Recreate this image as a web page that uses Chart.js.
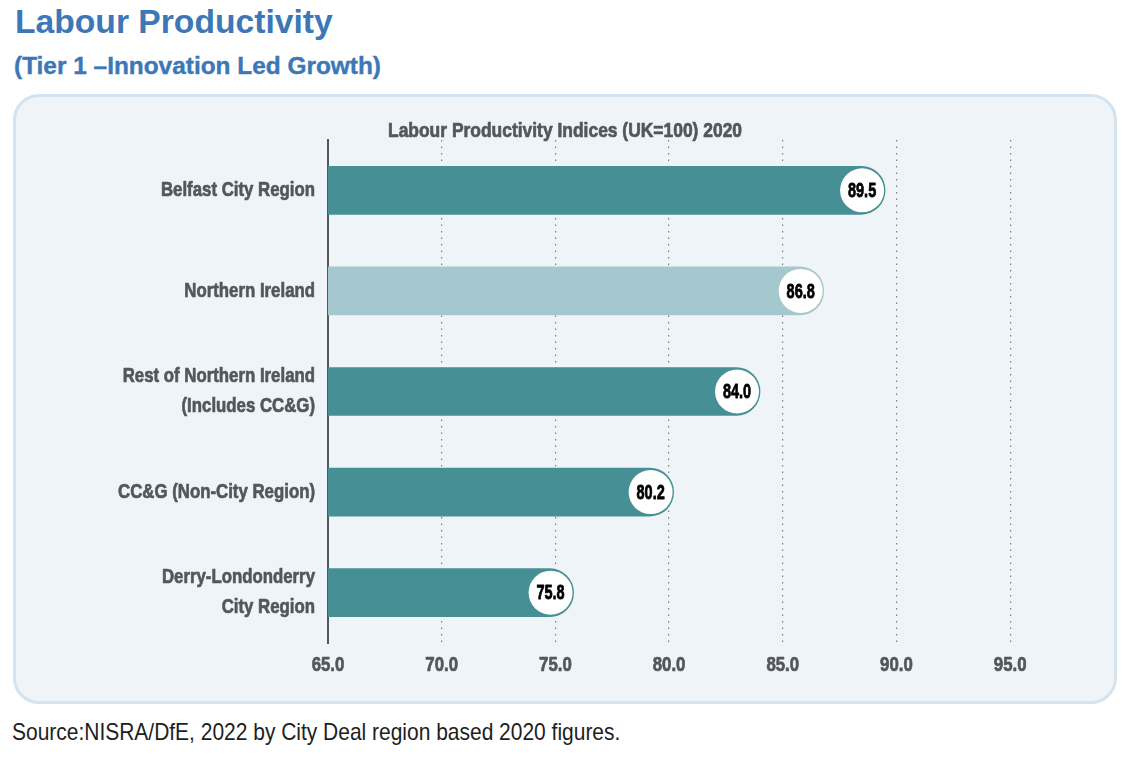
<!DOCTYPE html>
<html>
<head>
<meta charset="utf-8">
<script src="https://cdn.jsdelivr.net/npm/chart.js@4/dist/chart.umd.min.js"></script>
<style>
  html, body { margin:0; padding:0; background:#ffffff; width:1142px; height:764px; overflow:hidden; }
  body { position:relative; font-family:'Liberation Sans',Arial,sans-serif; }
  .sq { position:absolute; white-space:nowrap; transform-origin:0 50%; display:inline-block; }
  #t1 { left:15px; top:3px; font-weight:bold; font-size:33px; color:#3c78b6; }
  #t2 { left:14px; top:52px; font-weight:bold; font-size:24px; color:#3c78b6; -webkit-text-stroke:0.4px #3c78b6; }
  #box { position:absolute; left:13px; top:94px; width:1098px; height:604px; background:#eff4f8; border:3px solid #d3e4f0; border-radius:26px; }
  #cv { position:absolute; left:14px; top:95px; width:1100px; height:606px; }
  #src { left:12px; top:718px; font-size:24px; color:#1e1e1e; }
</style>
</head>
<body>
<div id="t1" class="sq" data-w="318">Labour Productivity</div>
<div id="t2" class="sq" data-w="367">(Tier 1 –Innovation Led Growth)</div>
<div id="box"></div>
<div id="cv"><canvas id="c" width="1100" height="606"></canvas></div>
<div id="src" class="sq" data-w="608">Source:NISRA/DfE, 2022 by City Deal region based 2020 figures.</div>
<script>
const categories = [
  'Belfast City Region',
  'Northern Ireland',
  ['Rest of Northern Ireland', '(Includes CC&G)'],
  'CC&G (Non-City Region)',
  ['Derry-Londonderry', 'City Region']
];
const values = [89.5, 86.8, 84.0, 80.2, 75.8];
const barColors = ['#458f95', '#a5c8ce', '#458f95', '#458f95', '#458f95'];
const chartTitle = 'Labour Productivity Indices (UK=100) 2020';
const axisMin = 65, axisMax = 97.5, axisStep = 5;

// squeeze HTML texts to reference widths (condensed face is not installed)
document.querySelectorAll('.sq').forEach(el => {
  const k = (+el.dataset.w) / el.offsetWidth;
  el.style.transform = 'scaleX(' + k + ')';
});

const FAMILY = "'Liberation Sans', Arial, sans-serif";
const GREY = '#53575b';

function condText(ctx, text, x, y, size, sx, align, color, stroke) {
  ctx.save();
  ctx.font = 'bold ' + size + 'px ' + FAMILY;
  ctx.fillStyle = color;
  ctx.strokeStyle = color;
  ctx.lineWidth = stroke || 0.7;
  ctx.lineJoin = 'round';
  ctx.textAlign = align;
  ctx.textBaseline = 'middle';
  ctx.translate(x, y);
  ctx.scale(sx, 1);
  ctx.fillText(text, 0, 0);
  ctx.strokeText(text, 0, 0);
  ctx.restore();
}

const overlay = {
  id: 'overlay',
  afterDatasetsDraw(chart) {
    const ctx = chart.ctx;
    const meta = chart.getDatasetMeta(0);
    meta.data.forEach((bar, i) => {
      const cx = bar.x - 23, cy = bar.y, r = 22;
      ctx.save();
      ctx.beginPath();
      ctx.arc(cx, cy, r, 0, Math.PI * 2);
      ctx.fillStyle = '#ffffff';
      ctx.fill();
      ctx.restore();
      condText(ctx, values[i].toFixed(1), cx, cy + 1, 21, 0.69, 'center', '#000000', 0.8);
    });
  },
  afterDraw(chart) {
    const ctx = chart.ctx;
    const xs = chart.scales.x, ys = chart.scales.y;
    condText(ctx, chartTitle, 551, 36, 21, 0.83, 'center', GREY);
    ys.ticks.forEach((t, i) => {
      const y = ys.getPixelForTick(i);
      const lab = categories[i];
      const lines = Array.isArray(lab) ? lab : [lab];
      const lh = 30;
      lines.forEach((ln, j) => {
        const yy = y + (j - (lines.length - 1) / 2) * lh;
        condText(ctx, ln, ys.right - 13, yy, 21, 0.8, 'right', GREY);
      });
    });
    xs.ticks.forEach((t, i) => {
      const x = xs.getPixelForTick(i);
      condText(ctx, Number(t.value).toFixed(1), x, 570, 20, 0.84, 'center', GREY);
    });
  }
};

new Chart(document.getElementById('c'), {
  type: 'bar',
  data: {
    labels: categories,
    datasets: [{
      data: values,
      backgroundColor: barColors,
      borderWidth: 0,
      barThickness: 48,
      borderRadius: 24,
      borderSkipped: 'start'
    }]
  },
  options: {
    indexAxis: 'y',
    responsive: false,
    animation: false,
    devicePixelRatio: 1,
    layout: { padding: { left: 0, right: 47, top: 45, bottom: 18 } },
    plugins: { legend: { display: false }, tooltip: { enabled: false }, title: { display: false } },
    scales: {
      x: {
        min: axisMin, max: axisMax,
        ticks: {
          stepSize: axisStep, includeBounds: false, padding: 13,
          color: 'rgba(0,0,0,0)', font: { family: FAMILY, size: 18, weight: 'bold' },
          callback: v => Number(v).toFixed(1)
        },
        grid: {
          drawTicks: false,
          color: ctx => (ctx.tick && ctx.tick.value === axisMin) ? 'rgba(0,0,0,0)' : '#7a7f83',
          lineWidth: 1.2
        },
        border: { display: false, dash: [1.5, 5] },
        afterFit(scale) { scale.height = 40; }
      },
      y: {
        ticks: {
          padding: 13, color: 'rgba(0,0,0,0)',
          font: { family: FAMILY, size: 18, weight: 'bold', lineHeight: 1.65 }
        },
        grid: { display: false, drawTicks: false },
        border: { display: true, color: GREY, width: 2 },
        afterFit(scale) { scale.width = 314; }
      }
    }
  },
  plugins: [overlay]
});
</script>
</body>
</html>
